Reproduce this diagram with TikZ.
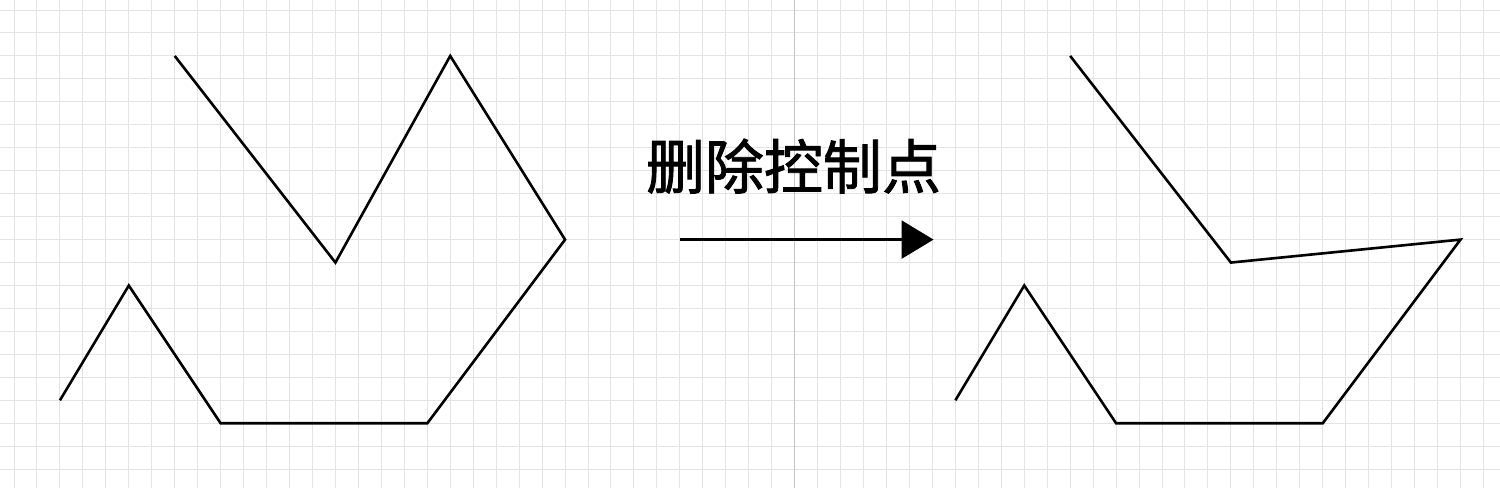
\documentclass[tikz,border=0pt]{standalone}
\usepackage{fontspec}
\newfontfamily\cjk{Noto Sans CJK SC}[FakeBold=1.5]
\usetikzlibrary{arrows.meta}
\definecolor{gridgray}{HTML}{E3E3E3}
\definecolor{pagegray}{HTML}{C4C4C4}
\begin{document}
\begin{tikzpicture}[x=1pt,y=-1pt,
  gridline/.style={draw=gridgray,line width=1pt},
  pageline/.style={draw=pagegray,line width=1pt},
  shapeline/.style={draw=black,line width=2.6pt},
  arrowline/.style={draw=black,line width=2.5pt,-{Triangle[length=32pt,width=38pt]}},
  labeltext/.style={font=\cjk\fontsize{59}{60}\selectfont,inner sep=0pt,text=black}
]
\fill[white] (0,0) rectangle (1500,488);
\useasboundingbox (0,0) rectangle (1500,488);
\foreach \k in {0,...,64} \draw[gridline] ({14+\k*22.96},0) -- ({14+\k*22.96},488);
\foreach \k in {0,...,20} \draw[gridline] (0,{10+\k*22.96}) -- (1500,{10+\k*22.96});
\draw[pageline] (794.6,0) -- (794.6,488);
\begin{scope}[shift={(14,10)},x=22.96pt,y=-22.96pt]
  \draw[shapeline] (7,2) -- (14,11) -- (19,2) -- (24,10) -- (18,18) -- (9,18) -- (5,12) -- (2,17);
  \draw[shapeline] (46,2) -- (53,11) -- (63,10) -- (57,18) -- (48,18) -- (44,12) -- (41,17);
  \coordinate (as) at (29,10);
  \coordinate (ae) at (40.05,10);
  \draw[arrowline] (as) -- (ae);
  \node[labeltext] (lbl) at (33.95,6.8) {删除控制点};
\end{scope}
\end{tikzpicture}
\end{document}
